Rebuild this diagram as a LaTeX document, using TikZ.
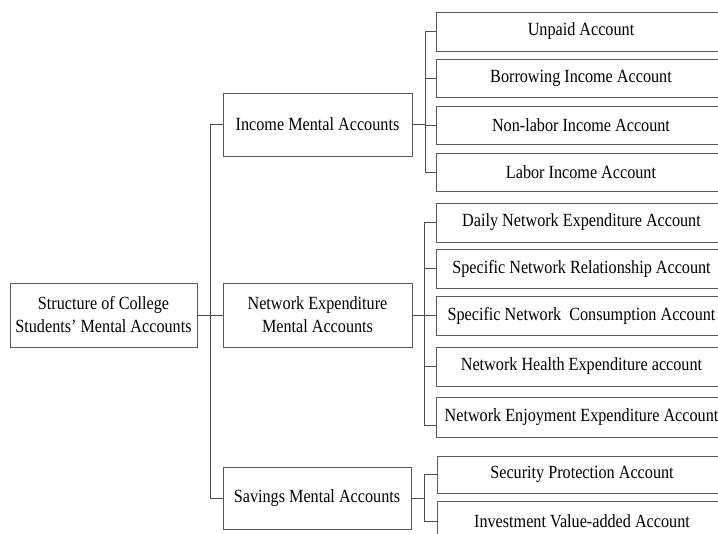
\documentclass[tikz,border=0pt]{standalone}
\usepackage{fontspec}
\setmainfont{Liberation Serif}
\usepackage{graphicx}
\newcommand{\sq}[1]{\scalebox{0.87}[1]{#1}}
\begin{document}
\begin{tikzpicture}[x=1pt,y=-1pt,
  box/.style={draw=black!65, line width=0.9pt, inner sep=0pt, align=center,
    font=\fontsize{18.6}{23}\selectfont, text=black},
  midbox/.style={box, minimum width=189pt, minimum height=63pt},
  leaf/.style={box, minimum width=290pt, minimum height=38pt},
  conn/.style={draw=black!70, line width=0.9pt}]
\useasboundingbox (0,0) rectangle (718,534);
\fill[white] (0,0) rectangle (718,534);

% root
\node[box, minimum width=187pt, minimum height=64pt] (root) at (103.5,315)
  {\sq{Structure of College}\\\sq{Students{\char"27} Mental Accounts}};

% middle level
\node[midbox] (inc) at (317.5,124.5) {\sq{Income Mental Accounts}};
\node[midbox, minimum height=64pt] (net) at (317.5,315) {\sq{Network Expenditure}\\\sq{Mental Accounts}};
\node[midbox, minimum width=188pt, minimum height=62pt] (sav) at (317,498) {\sq{Savings Mental Accounts}};

% income leaves
\node[leaf, minimum height=39pt] (i1) at (581,31.5) {\sq{Unpaid Account}};
\node[leaf] (i2) at (581,78) {\sq{Borrowing Income Account}};
\node[leaf] (i3) at (581,125) {\sq{Non-labor Income Account}};
\node[leaf] (i4) at (581,172) {\sq{Labor Income Account}};

% network leaves
\node[leaf, minimum height=39pt] (n1) at (581.5,222.5) {\sq{Daily Network Expenditure Account}};
\node[leaf, minimum height=39pt] (n2) at (581.5,268.5) {\sq{Specific Network Relationship Account}};
\node[leaf, minimum height=39pt] (n3) at (581.5,315.5) {\sq{Specific Network\ \ Consumption Account}};
\node[leaf, minimum height=39pt] (n4) at (581.5,366.5) {\sq{Network Health Expenditure account}};
\node[leaf, minimum height=40pt] (n5) at (581.5,417) {\sq{Network Enjoyment Expenditure Account}};

% savings leaves
\node[leaf, minimum height=37pt] (s1) at (582,474.5) {\sq{Security Protection Account}};
\node[leaf, minimum height=40pt] (s2) at (582,521) {\sq{Investment Value-added Account}};

% root connectors
\coordinate (rb) at (210,315);
\draw[conn] (root.east) -- (rb);
\draw[conn] (inc.west) -- (inc.west -| rb) -- (sav.west -| rb) -- (sav.west);
\draw[conn] (rb) -- (net.west);

% income connectors
\coordinate (ib) at (425,124.5);
\draw[conn] (inc.east) -- (ib);
\draw[conn] (i1.west) -- (i1.west -| ib) -- (i4.west -| ib) -- (i4.west);
\draw[conn] (i2.west) -- (i2.west -| ib);
\draw[conn] (i3.west) -- (i3.west -| ib);

% network connectors
\coordinate (nb) at (424,315);
\coordinate (n5s) at ([yshift=-8pt]n5.west);
\draw[conn] (net.east) -- (nb);
\draw[conn] (n1.west) -- (n1.west -| nb) -- (n5s -| nb) -- (n5s);
\draw[conn] (n2.west) -- (n2.west -| nb);
\draw[conn] (n3.west) -- (n3.west -| nb);
\draw[conn] (n4.west) -- (n4.west -| nb);

% savings connectors
\coordinate (sb) at (424,498);
\draw[conn] (sav.east) -- (sb);
\draw[conn] (s1.west) -- (s1.west -| sb) -- (s2.west -| sb) -- (s2.west);
\end{tikzpicture}
\end{document}
